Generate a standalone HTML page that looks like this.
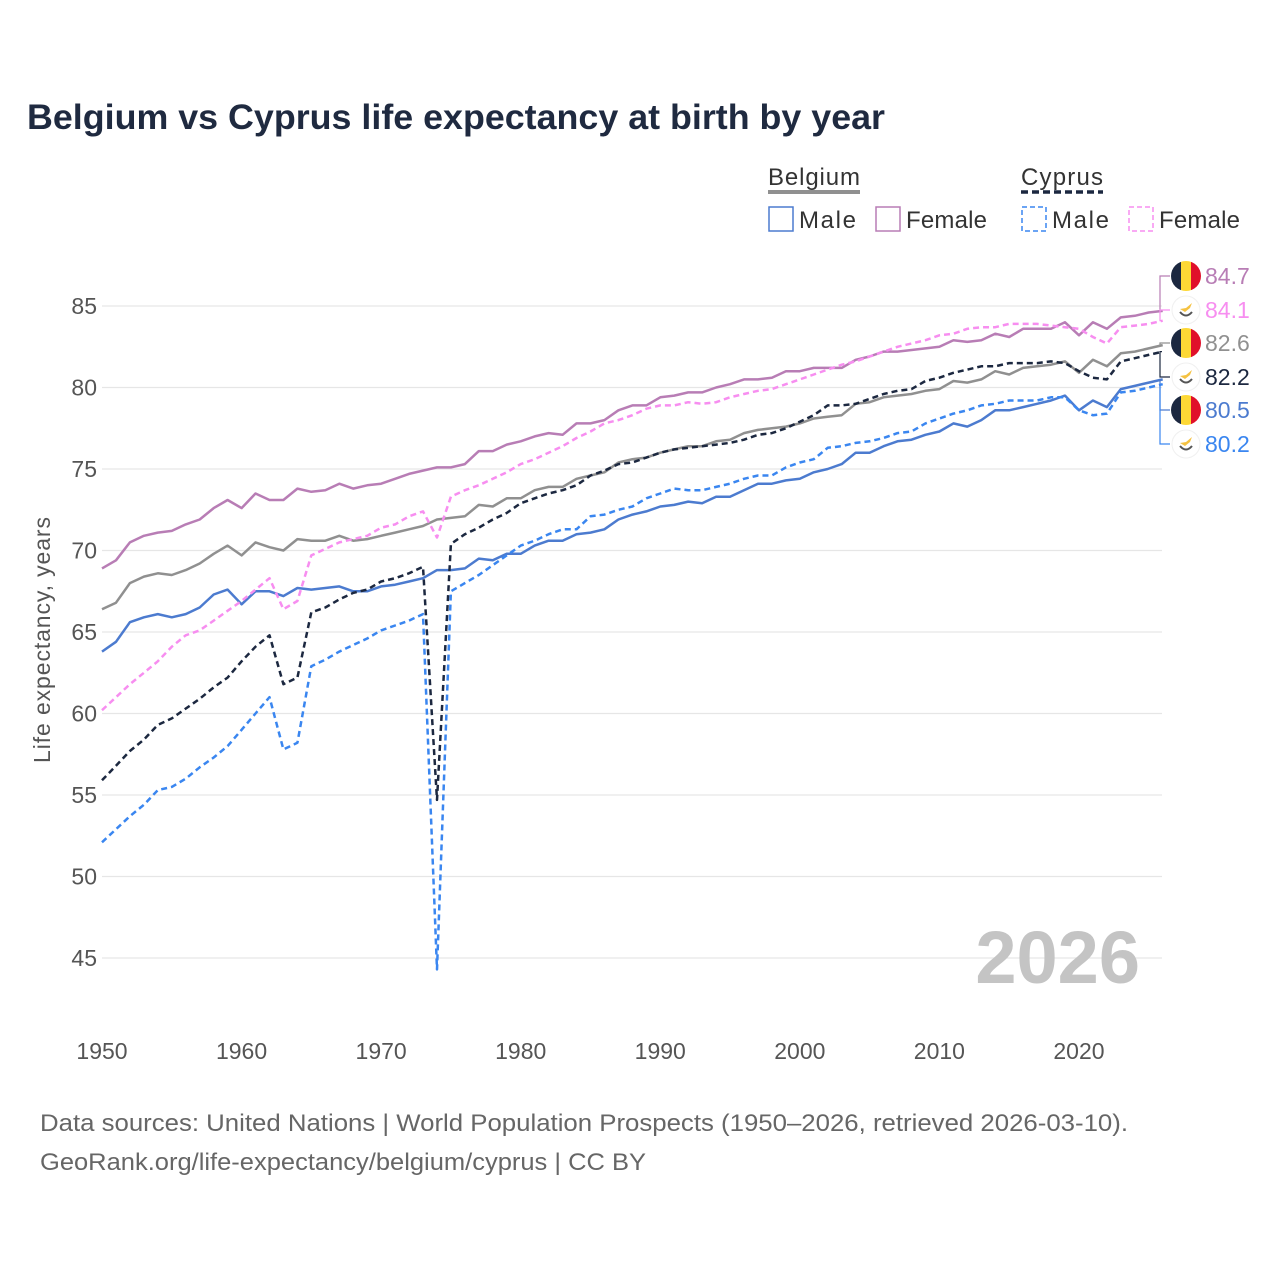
<!DOCTYPE html>
<html><head><meta charset="utf-8"><style>
body{margin:0;background:#fff;width:1280px;height:1280px;overflow:hidden}
svg{display:block;font-family:"Liberation Sans",sans-serif}
</style></head><body>
<svg id="chart" width="1280" height="1280" viewBox="0 0 1280 1280">
<text x="27" y="129" font-size="35" font-weight="bold" fill="#1f2a40" textLength="858" lengthAdjust="spacingAndGlyphs">Belgium vs Cyprus life expectancy at birth by year</text>
<g>
<text x="768" y="185" font-size="24" fill="#333" textLength="92">Belgium</text>
<line x1="768" y1="192" x2="860" y2="192" stroke="#909090" stroke-width="4"/>
<text x="1021" y="185" font-size="24" fill="#333" textLength="82">Cyprus</text>
<line x1="1021" y1="192" x2="1103" y2="192" stroke="#1c2840" stroke-width="3.5" stroke-dasharray="7,4"/>
<rect x="769" y="207" width="24" height="24" fill="none" stroke="#4c7bcf" stroke-width="1.5"/>
<text x="799" y="228" font-size="24" fill="#333" textLength="57">Male</text>
<rect x="876" y="207" width="24" height="24" fill="none" stroke="#b87db5" stroke-width="1.5"/>
<text x="906" y="228" font-size="24" fill="#333" textLength="81">Female</text>
<rect x="1022" y="207" width="24" height="24" fill="none" stroke="#3a86f0" stroke-width="1.5" stroke-dasharray="5,3"/>
<text x="1052" y="228" font-size="24" fill="#333" textLength="57">Male</text>
<rect x="1129" y="207" width="24" height="24" fill="none" stroke="#f78ef0" stroke-width="1.5" stroke-dasharray="5,3"/>
<text x="1159" y="228" font-size="24" fill="#333" textLength="81">Female</text>
</g>
<g id="grid"></g>
<g id="axes"></g>
<text x="1140" y="983" text-anchor="end" font-size="74" font-weight="bold" fill="#c4c4c4">2026</text>
<g id="series"></g>
<g id="labels"></g>
<text transform="translate(50,640) rotate(-90)" text-anchor="middle" font-size="23" fill="#555" textLength="246">Life expectancy, years</text>
<text x="40" y="1131" font-size="24" fill="#666" textLength="1088" lengthAdjust="spacingAndGlyphs">Data sources: United Nations | World Population Prospects (1950–2026, retrieved 2026-03-10).</text>
<text x="40" y="1170" font-size="24" fill="#666" textLength="606" lengthAdjust="spacingAndGlyphs">GeoRank.org/life-expectancy/belgium/cyprus | CC BY</text>
</svg>
<script>
const startYear = 1950;
const xTicks = [1950,1960,1970,1980,1990,2000,2010,2020];
const yTicks = [45,50,55,60,65,70,75,80,85];
const belgiumFemale = [68.9,69.4,70.5,70.9,71.1,71.2,71.6,71.9,72.6,73.1,72.6,73.5,73.1,73.1,73.8,73.6,73.7,74.1,73.8,74.0,74.1,74.4,74.7,74.9,75.1,75.1,75.3,76.1,76.1,76.5,76.7,77.0,77.2,77.1,77.8,77.8,78.0,78.6,78.9,78.9,79.4,79.5,79.7,79.7,80.0,80.2,80.5,80.5,80.6,81.0,81.0,81.2,81.2,81.2,81.7,81.9,82.2,82.2,82.3,82.4,82.5,82.9,82.8,82.9,83.3,83.1,83.6,83.6,83.6,84.0,83.2,84.0,83.6,84.3,84.4,84.6,84.7];
const belgiumTotal = [66.4,66.8,68.0,68.4,68.6,68.5,68.8,69.2,69.8,70.3,69.7,70.5,70.2,70.0,70.7,70.6,70.6,70.9,70.6,70.7,70.9,71.1,71.3,71.5,71.9,72.0,72.1,72.8,72.7,73.2,73.2,73.7,73.9,73.9,74.4,74.6,74.8,75.4,75.6,75.7,76.0,76.2,76.4,76.4,76.7,76.8,77.2,77.4,77.5,77.6,77.8,78.1,78.2,78.3,79.0,79.1,79.4,79.5,79.6,79.8,79.9,80.4,80.3,80.5,81.0,80.8,81.2,81.3,81.4,81.6,80.9,81.7,81.3,82.1,82.2,82.4,82.6];
const belgiumMale = [63.8,64.4,65.6,65.9,66.1,65.9,66.1,66.5,67.3,67.6,66.7,67.5,67.5,67.2,67.7,67.6,67.7,67.8,67.5,67.5,67.8,67.9,68.1,68.3,68.8,68.8,68.9,69.5,69.4,69.8,69.8,70.3,70.6,70.6,71.0,71.1,71.3,71.9,72.2,72.4,72.7,72.8,73.0,72.9,73.3,73.3,73.7,74.1,74.1,74.3,74.4,74.8,75.0,75.3,76.0,76.0,76.4,76.7,76.8,77.1,77.3,77.8,77.6,78.0,78.6,78.6,78.8,79.0,79.2,79.5,78.6,79.2,78.8,79.9,80.1,80.3,80.5];
const cyprusFemale = [60.2,61.0,61.8,62.5,63.2,64.1,64.8,65.1,65.7,66.3,66.9,67.6,68.3,66.4,66.9,69.7,70.1,70.5,70.7,70.9,71.4,71.6,72.1,72.4,70.8,73.3,73.7,74.0,74.4,74.8,75.3,75.6,76.0,76.4,76.9,77.3,77.8,78.0,78.3,78.7,78.9,78.9,79.1,79.0,79.1,79.4,79.6,79.8,79.9,80.2,80.5,80.8,81.1,81.4,81.6,81.9,82.2,82.5,82.7,82.9,83.2,83.3,83.6,83.7,83.7,83.9,83.9,83.9,83.8,83.7,83.6,83.1,82.7,83.7,83.8,83.9,84.1];
const cyprusTotal = [55.9,56.8,57.7,58.4,59.3,59.7,60.3,60.9,61.6,62.2,63.2,64.1,64.8,61.8,62.2,66.2,66.5,67.0,67.4,67.6,68.1,68.3,68.6,69.0,54.7,70.4,71.0,71.4,71.9,72.3,72.9,73.2,73.5,73.7,74.0,74.6,74.9,75.3,75.4,75.7,76.0,76.2,76.3,76.4,76.5,76.6,76.8,77.1,77.2,77.5,77.9,78.3,78.9,78.9,79.0,79.3,79.6,79.8,79.9,80.4,80.6,80.9,81.1,81.3,81.3,81.5,81.5,81.5,81.6,81.5,81.0,80.6,80.5,81.6,81.8,82.0,82.2];
const cyprusMale = [52.1,52.9,53.7,54.4,55.3,55.5,56.0,56.7,57.3,58.0,59.0,60.0,61.0,57.8,58.2,62.9,63.3,63.8,64.2,64.6,65.1,65.4,65.7,66.1,44.3,67.5,68.0,68.5,69.1,69.7,70.3,70.6,71.0,71.3,71.3,72.1,72.2,72.5,72.7,73.2,73.5,73.8,73.7,73.7,73.9,74.1,74.4,74.6,74.6,75.1,75.4,75.6,76.3,76.4,76.6,76.7,76.9,77.2,77.3,77.8,78.1,78.4,78.6,78.9,79.0,79.2,79.2,79.2,79.4,79.4,78.6,78.3,78.4,79.7,79.8,80.0,80.2];

const NS = "http://www.w3.org/2000/svg";
const X0 = 102, X1 = 1162.7, Y85 = 306, PER = 16.3;
function xs(yr){ return X0 + (yr-1950)*(X1-X0)/76; }
function ys(v){ return Y85 + (85-v)*PER; }
function mk(tag, attrs, parent){ const e=document.createElementNS(NS,tag); for(const k in attrs) e.setAttribute(k,attrs[k]); parent.appendChild(e); return e; }

const grid=document.getElementById('grid'), axes=document.getElementById('axes');
yTicks.forEach(v=>{
  const l=mk('line',{x1:X0,x2:1162,y1:ys(v),y2:ys(v),stroke:'#e6e6e6','stroke-width':1.2},grid);
  
  
  const t=mk('text',{x:97,y:ys(v)+8,'text-anchor':'end','font-size':23,fill:'#555'},axes);
  t.textContent=v;
  
  
});
xTicks.forEach(yr=>{
  const t=mk('text',{x:xs(yr),y:1059,'text-anchor':'middle','font-size':23,fill:'#555'},axes);
  t.textContent=yr;
  
  
});

const seriesG=document.getElementById('series');
function draw(vals,color,dash,name){
  const d=vals.map((v,i)=>(i?'L':'M')+xs(startYear+i).toFixed(1)+','+ys(v).toFixed(1)).join(' ');
  const p=mk('path',{d:d,fill:'none',stroke:color,'stroke-width':2.5,'stroke-linejoin':'round'},seriesG);
  if(dash) p.setAttribute('stroke-dasharray',dash);
  
  
}
draw(belgiumFemale,'#b87db5',null,'line-belgium-female');
draw(belgiumTotal,'#909090',null,'line-belgium-total');
draw(belgiumMale,'#4c7bcf',null,'line-belgium-male');
draw(cyprusFemale,'#f78ef0','6,4','line-cyprus-female');
draw(cyprusMale,'#3a86f0','6,4','line-cyprus-male');
draw(cyprusTotal,'#1c2840','6,4','line-cyprus-total');

const labels=document.getElementById('labels');
const ends=[
 {vals:belgiumFemale,color:'#b87db5',ly:276,flag:'be',name:'belgium-female'},
 {vals:cyprusFemale,color:'#f78ef0',ly:310,flag:'cy',name:'cyprus-female'},
 {vals:belgiumTotal,color:'#909090',ly:343,flag:'be',name:'belgium-total'},
 {vals:cyprusTotal,color:'#1c2840',ly:377,flag:'cy',name:'cyprus-total'},
 {vals:belgiumMale,color:'#4c7bcf',ly:410,flag:'be',name:'belgium-male'},
 {vals:cyprusMale,color:'#3a86f0',ly:444,flag:'cy',name:'cyprus-male'}
];
ends.forEach(e=>{
  const v=e.vals[e.vals.length-1], y=ys(v);
  mk('path',{d:`M1162,${y.toFixed(1)} L1160,${y.toFixed(1)} L1160,${e.ly} L1170,${e.ly}`,fill:'none',stroke:e.color,'stroke-width':1.2},labels);
  if(e.flag==='be'){
    const g=mk('g',{},labels);
    
    
    mk('clipPath',{id:'c'+e.ly},g);
    mk('circle',{cx:1186,cy:e.ly,r:15},g.lastChild);
    const gg=mk('g',{'clip-path':`url(#c${e.ly})`},g);
    mk('rect',{x:1171,y:e.ly-15,width:10,height:30,fill:'#1c2840'},gg);
    mk('rect',{x:1181,y:e.ly-15,width:10,height:30,fill:'#fdd835'},gg);
    mk('rect',{x:1191,y:e.ly-15,width:10,height:30,fill:'#e0102a'},gg);
  } else {
    const g=mk('g',{},labels);
    
    
    mk('circle',{cx:1186,cy:e.ly,r:14,fill:'#fff',stroke:'#f0f0f0'},g);
    mk('path',{d:`M1180,${e.ly-1} L1186,${e.ly-2} L1192,${e.ly-7} L1190,${e.ly-2} L1185,${e.ly+2} Z`,fill:'#f5c242'},g);
    mk('path',{d:`M1180,${e.ly+2} Q1186,${e.ly+9} 1192,${e.ly+2}`,fill:'none',stroke:'#555','stroke-width':2},g);
  }
  const t=mk('text',{x:1205,y:e.ly+8,'font-size':23,fill:e.color},labels);
  t.textContent=v.toFixed(1);
  
  
});
</script>
</body></html>
